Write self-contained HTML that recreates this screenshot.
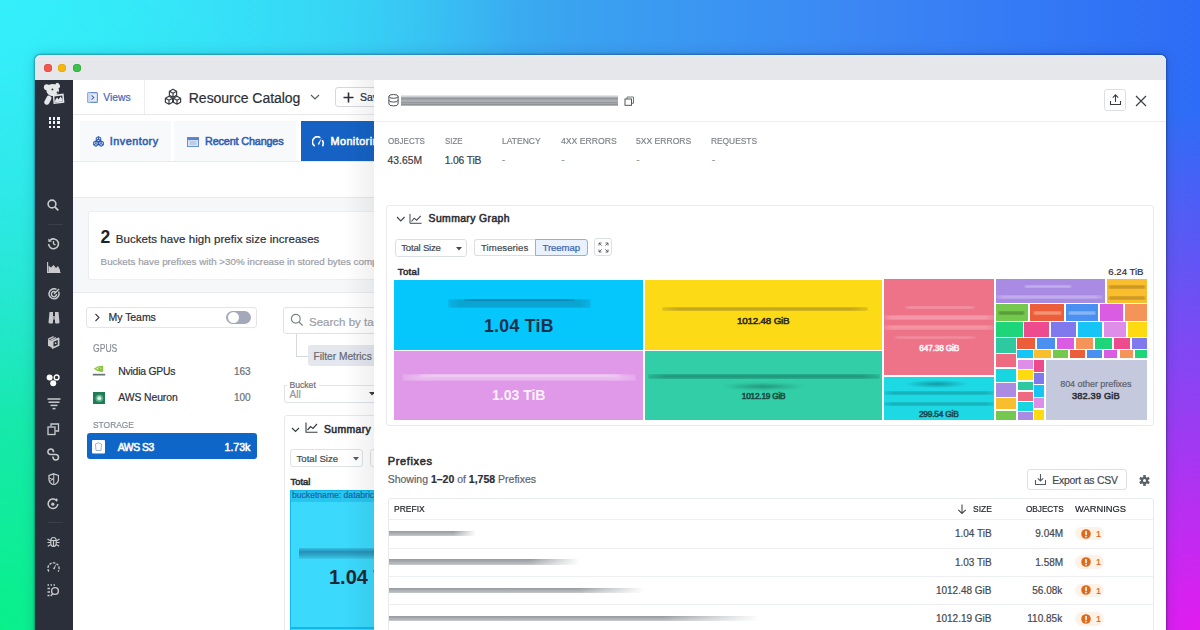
<!DOCTYPE html>
<html><head><meta charset="utf-8">
<style>
*{margin:0;padding:0;box-sizing:border-box}
html,body{width:1200px;height:630px;overflow:hidden}
body{font-family:"Liberation Sans",sans-serif;position:relative;background:#2f7cf2}
.a{position:absolute}
.t{white-space:nowrap;line-height:1}
.t.r{-webkit-text-stroke:0.2px currentColor}
.t.s{-webkit-text-stroke:0.55px currentColor}
.layer{position:absolute;left:0;top:0;width:1200px;height:630px}
</style></head><body>

<div class="a" style="left:0px;top:0px;width:1200.00px;height:630.00px;background:
 radial-gradient(ellipse 520px 420px at 0px 0px,#34f0fb 0%,rgba(52,240,251,0) 100%),
 radial-gradient(ellipse 480px 680px at 0px 630px,#08f08a 0%,rgba(8,240,138,0) 100%),
 radial-gradient(ellipse 560px 520px at 1200px 630px,#e21cf0 0%,rgba(226,28,240,0) 100%),
 linear-gradient(90deg,#36d8f6 0%,#38c6f2 28%,#3aa2f0 48%,#3b86f4 72%,#2d6cf6 100%);"></div>
<div class="a" style="left:35px;top:55px;width:1131.00px;height:605.00px;border-radius:6px;background:#fff;box-shadow:0 0 2px 0.5px rgba(0,20,60,.35),0 0 14px rgba(0,0,40,.15)"></div>
<div class="a" style="left:35px;top:55px;width:1131.00px;height:25.00px;border-radius:6px 6px 0 0;background:#e6e7eb;box-shadow:inset 0 1.5px 0 rgba(225,240,250,.9)"></div>
<div class="a" style="left:43.9px;top:63.8px;width:8.20px;height:8.20px;border-radius:50%;background:#f4574b;box-shadow:inset 0 0 0 0.6px #d9443a"></div>
<div class="a" style="left:58.0px;top:63.8px;width:8.20px;height:8.20px;border-radius:50%;background:#f7b60e;box-shadow:inset 0 0 0 0.6px #e0a30a"></div>
<div class="a" style="left:72.5px;top:63.8px;width:8.20px;height:8.20px;border-radius:50%;background:#3cc24a;box-shadow:inset 0 0 0 0.6px #2fa33c"></div>
<div class="a" style="left:35px;top:80px;width:38.00px;height:550.00px;background:#2b2f39"></div>
<svg class="a" style="left:40px;top:80px;" width="28" height="28" viewBox="0 0 28 28"><g fill="#e6e7e9"><circle cx="6.8" cy="7.2" r="2.9"/><ellipse cx="17.6" cy="5.6" rx="2.2" ry="2.8" transform="rotate(-30 17.6 5.6)"/><ellipse cx="12.6" cy="10" rx="6.4" ry="6" transform="rotate(20 12.6 10)"/><rect x="5.5" y="15.5" width="5" height="9.5" rx="2.5" transform="rotate(28 8 20)"/></g><circle cx="12.4" cy="9.4" r="0.95" fill="#2b2f39"/><circle cx="17.6" cy="12.5" r="1" fill="#2b2f39"/><path d="M12.8 15 L23.6 13.6 L24.4 22.8 L13.6 24 Z" fill="#e6e7e9"/><path d="M14.3 16.5 L22.2 15.4 L22.8 21.4 L14.9 22.4 Z" fill="#2b2f39"/><path d="M14.8 22.3 L15.5 19.5 L17.2 17.6 L18.6 19.6 L20.5 16.4 L22.6 19.4 L22.8 21.4 Z" fill="#e6e7e9"/></svg>
<div class="a" style="left:48.6px;top:117.2px;width:2.60px;height:2.60px;background:#f2f3f4"></div>
<div class="a" style="left:52.800000000000004px;top:117.2px;width:2.60px;height:2.60px;background:#f2f3f4"></div>
<div class="a" style="left:57.0px;top:117.2px;width:2.60px;height:2.60px;background:#f2f3f4"></div>
<div class="a" style="left:48.6px;top:121.4px;width:2.60px;height:2.60px;background:#f2f3f4"></div>
<div class="a" style="left:52.800000000000004px;top:121.4px;width:2.60px;height:2.60px;background:#f2f3f4"></div>
<div class="a" style="left:57.0px;top:121.4px;width:2.60px;height:2.60px;background:#f2f3f4"></div>
<div class="a" style="left:48.6px;top:125.60000000000001px;width:2.60px;height:2.60px;background:#f2f3f4"></div>
<div class="a" style="left:52.800000000000004px;top:125.60000000000001px;width:2.60px;height:2.60px;background:#f2f3f4"></div>
<div class="a" style="left:57.0px;top:125.60000000000001px;width:2.60px;height:2.60px;background:#f2f3f4"></div>
<svg class="a" style="left:46px;top:198px;" width="14" height="14" viewBox="0 0 14 14"><circle cx="6" cy="6" r="3.9" fill="none" stroke="#c8cace" stroke-width="1.6"/><path d="M8.8 8.8 L12.3 12.3" stroke="#c8cace" stroke-width="1.8"/></svg>
<div class="a" style="left:47.8px;top:224px;width:15.50px;height:1.00px;background:#3b3f49"></div>
<div class="a" style="left:47.8px;top:522.2px;width:15.50px;height:1.00px;background:#3b3f49"></div>
<svg class="a" style="left:47px;top:237px;" width="13" height="13" viewBox="0 0 13 13"><path d="M3.2 3.2 A4.9 4.9 0 1 1 1.6 7" fill="none" stroke="#c8cace" stroke-width="1.6"/><path d="M1.2 1.5 L1.5 5 L5 4.6 Z" fill="#c8cace"/><path d="M6.5 4 V6.8 L8.5 8" fill="none" stroke="#c8cace" stroke-width="1.3"/></svg>
<svg class="a" style="left:46.5px;top:262px;" width="14" height="11" viewBox="0 0 14 11"><path d="M0.6 0 V10.4 H13.5" fill="none" stroke="#c8cace" stroke-width="1.1"/><path d="M1.5 10 V3.5 L4 5.5 L6.5 3 L9 6 L11 4 L13 8 V10 Z" fill="#c8cace"/></svg>
<svg class="a" style="left:47.5px;top:287.5px;" width="12" height="12" viewBox="0 0 12 12"><path d="M10.5 3.5 A5 5 0 1 1 8.5 1.4" fill="none" stroke="#c8cace" stroke-width="1.5"/><path d="M7.8 4.2 A2.6 2.6 0 1 0 8.6 6" fill="none" stroke="#c8cace" stroke-width="1.4"/><path d="M6 6 L11 1" stroke="#c8cace" stroke-width="1.4"/></svg>
<svg class="a" style="left:47.5px;top:311px;" width="12" height="13" viewBox="0 0 12 13"><path d="M1.5 1 H5 V5 H7 V1 H10.5 L11.5 11.5 Q11.5 12.5 10 12.5 H8 Q7 12.5 7 11 V8.5 H5 V11 Q5 12.5 4 12.5 H2 Q0.5 12.5 0.5 11.5 Z" fill="#c8cace"/><path d="M6 5 V8.5" stroke="#2b2f39" stroke-width="0.6"/></svg>
<svg class="a" style="left:43px;top:333px;" width="20" height="20" viewBox="0 0 20 20"><path d="M5 6.4 L9.6 8.2 V15 L5 12.8 Z" fill="#c8cace"/><path d="M9.6 8.2 L15.6 5.4 V12.3 L9.6 15 Z" fill="none" stroke="#c8cace" stroke-width="1.7" stroke-linejoin="round"/><circle cx="12.6" cy="10.2" r="0.9" fill="#c8cace"/><path d="M5 6.4 L10.6 3.6 M7.4 7.3 L13 4.5 M9.6 8.2 L15.6 5.4" stroke="#c8cace" stroke-width="1.3"/></svg>
<svg class="a" style="left:46px;top:373.5px;" width="14" height="13" viewBox="0 0 14 13"><circle cx="3.6" cy="3.4" r="3" fill="#fff"/><circle cx="10.6" cy="3.4" r="2.4" fill="none" stroke="#fff" stroke-width="1.4"/><circle cx="7.2" cy="9.3" r="3" fill="#fff"/></svg>
<svg class="a" style="left:46.5px;top:398px;" width="14" height="12" viewBox="0 0 14 12"><g stroke="#c8cace" stroke-width="1.5"><path d="M0.5 1 H13.5"/><path d="M1.5 4.2 H12.5"/><path d="M3.5 7.4 H10.5"/><path d="M5.5 10.6 H8.5"/></g></svg>
<svg class="a" style="left:47px;top:423px;" width="12.5" height="12.5" viewBox="0 0 12.5 12.5"><g fill="none" stroke="#c8cace" stroke-width="1.3"><path d="M4 3.5 V1 H11.5 V8 H8.5"/><rect x="1" y="4" width="7" height="7.5"/></g></svg>
<svg class="a" style="left:47px;top:447.5px;" width="13" height="13" viewBox="0 0 13 13"><path d="M6.6 4.3 C6.6 2 5.5 0.9 3.9 0.9 C2.2 0.9 0.9 2.2 0.9 3.8 C0.9 5.4 2.2 6.4 3.8 6.4 L8.6 6.4 C10.2 6.4 11.5 7.6 11.5 9.2 C11.5 10.8 10.2 12 8.6 12 C7 12 5.9 10.9 5.9 8.6" fill="none" stroke="#c8cace" stroke-width="1.5"/></svg>
<svg class="a" style="left:47.5px;top:472.5px;" width="11.5" height="12.5" viewBox="0 0 11.5 12.5"><path d="M5.75 0.8 L10.5 2.5 V6.5 Q10.5 10 5.75 12 Q1 10 1 6.5 V2.5 Z" fill="none" stroke="#c8cace" stroke-width="1.3"/><path d="M5.75 1 V11.5 M1.5 5 L5.5 7 M2 8.5 L5.5 5" stroke="#c8cace" stroke-width="1"/></svg>
<svg class="a" style="left:47.3px;top:498px;" width="12" height="12" viewBox="0 0 12 12"><path d="M9 2 A4.8 4.8 0 1 0 10.8 6" fill="none" stroke="#c8cace" stroke-width="1.5"/><circle cx="5.8" cy="6.2" r="1.6" fill="#c8cace"/><path d="M9.5 0.5 V3.5 M8 2 H11" stroke="#c8cace" stroke-width="1.1"/></svg>
<svg class="a" style="left:47px;top:535.5px;" width="13" height="11.5" viewBox="0 0 13 11.5"><g fill="none" stroke="#c8cace" stroke-width="1.2"><path d="M3.8 5 Q3.8 1.5 6.5 1.5 Q9.2 1.5 9.2 5 V7.5 Q9.2 10.5 6.5 10.5 Q3.8 10.5 3.8 7.5 Z"/><path d="M0.5 3 L3.8 5 M12.5 3 L9.2 5 M0.5 6.5 H3.8 M12.5 6.5 H9.2 M0.8 10.3 L3.9 8.5 M12.2 10.3 L9.1 8.5 M3.8 4.5 H9.2 M6.5 4.5 V10.5"/></g></svg>
<svg class="a" style="left:47px;top:560.5px;" width="13" height="11.5" viewBox="0 0 13 11.5"><path d="M1.8 10.5 A5.6 5.6 0 1 1 11.2 10.5" fill="none" stroke="#c8cace" stroke-width="1.4" stroke-dasharray="2.5 1.2"/><path d="M6 7.8 L9.5 2.5 L7.5 8.5 Z" fill="#c8cace"/></svg>
<svg class="a" style="left:47px;top:583.5px;" width="13" height="13" viewBox="0 0 13 13"><g stroke="#c8cace" stroke-width="1.3"><path d="M0.5 1 H2 M3.5 1 H5 M6.5 1 H8 M0.5 4.5 H3 M0.5 8 H3 M0.5 11.5 H2.5"/></g><circle cx="8" cy="7" r="3.4" fill="none" stroke="#c8cace" stroke-width="1.4"/><path d="M5.7 9.6 L3.8 12" stroke="#c8cace" stroke-width="1.5"/></svg>
<div class="layer" style="clip-path:inset(80px 826px 0 73px)">
<div class="a" style="left:73px;top:80px;width:301.00px;height:550.00px;background:#fff"></div>
<div class="a" style="left:73px;top:114px;width:301.00px;height:1.00px;background:#e6e8ec"></div>
<div class="a" style="left:144px;top:80px;width:1.00px;height:34.00px;background:#eceef1"></div>
<svg class="a" style="left:87px;top:92px;" width="11" height="11" viewBox="0 0 11 11"><rect x="0.6" y="0.6" width="9.8" height="9.8" rx="1" fill="#e3eaf8" stroke="#6b8ccc" stroke-width="1.1"/><rect x="0.6" y="0.6" width="3" height="9.8" fill="#c9d6f0"/><path d="M4.6 3.4 L6.8 5.5 L4.6 7.6" fill="none" stroke="#4a6fc0" stroke-width="1.1"/></svg>
<div class="a t r" style="left:103.30px;top:93.00px;font-size:10.3px;color:#4469bd;letter-spacing:0.025px;">Views</div>
<svg class="a" style="left:164px;top:88px;" width="18" height="17" viewBox="0 0 18 17"><g fill="none" stroke="#3a3d44" stroke-width="1.2" stroke-linejoin="round"><path d="M9 1.2 L12.6 3.2 L12.6 7.2 L9 9.2 L5.4 7.2 L5.4 3.2 Z M5.4 3.2 L9 5.2 L12.6 3.2 M9 5.2 L9 9.2"/><path d="M5 8.2 L8.6 10.2 L8.6 14.2 L5 16.2 L1.4 14.2 L1.4 10.2 Z M1.4 10.2 L5 12.2 L8.6 10.2 M5 12.2 L5 16.2"/><path d="M13 8.2 L16.6 10.2 L16.6 14.2 L13 16.2 L9.4 14.2 L9.4 10.2 Z M9.4 10.2 L13 12.2 L16.6 10.2 M13 12.2 L13 16.2"/></g></svg>
<div class="a t r" style="left:188.80px;top:91.00px;font-size:14px;color:#2c2f36;letter-spacing:-0.033px;">Resource Catalog</div>
<svg class="a" style="left:310px;top:94px;" width="10" height="6" viewBox="0 0 10 6"><path d="M1 1 L5 5 L9 1" fill="none" stroke="#555a62" stroke-width="1.2"/></svg>
<div class="a" style="left:335px;top:86.5px;width:65.00px;height:20.50px;border:1px solid #d5d8de;border-radius:3px;background:#fff"></div>
<svg class="a" style="left:342px;top:91px;" width="13" height="13" viewBox="0 0 13 13"><path d="M6.5 1.5 V11.5 M1.5 6.5 H11.5" stroke="#2c2f36" stroke-width="1.6"/></svg>
<div class="a t r" style="left:360.00px;top:92.00px;font-size:10.5px;color:#2c2f36;">Save</div>
<div class="a" style="left:73px;top:161px;width:301.00px;height:1.00px;background:#e8eaee"></div>
<div class="a" style="left:80px;top:121px;width:90.60px;height:40.00px;background:#f8f9fb"></div>
<div class="a" style="left:174.4px;top:121px;width:121.60px;height:40.00px;background:#f8f9fb"></div>
<div class="a" style="left:300.5px;top:121px;width:79.50px;height:40.00px;background:#1562c4"></div>
<svg class="a" style="left:92.5px;top:135.8px;" width="11" height="11" viewBox="0 0 11 11"><path d="M5.50 0.60 L7.75 1.90 L7.75 4.50 L5.50 5.80 L3.25 4.50 L3.25 1.90 Z M3.25 4.50 L5.50 3.20 L7.75 4.50 M5.50 3.20 L5.50 0.60 M2.90 5.00 L5.15 6.30 L5.15 8.90 L2.90 10.20 L0.65 8.90 L0.65 6.30 Z M0.65 8.90 L2.90 7.60 L5.15 8.90 M2.90 7.60 L2.90 5.00 M8.10 5.00 L10.35 6.30 L10.35 8.90 L8.10 10.20 L5.85 8.90 L5.85 6.30 Z M5.85 8.90 L8.10 7.60 L10.35 8.90 M8.10 7.60 L8.10 5.00" fill="#dbe6f8" stroke="#2f5fb3" stroke-width="1.05" stroke-linejoin="round"/></svg>
<div class="a t s" style="left:109.80px;top:136.00px;font-size:10.8px;color:#2f5fb3;letter-spacing:0.487px;">Inventory</div>
<svg class="a" style="left:187px;top:137px;" width="12" height="10" viewBox="0 0 12 10"><rect x="0.5" y="0.5" width="11" height="9" fill="#dfe7f6" stroke="#6a8fd0" stroke-width="1"/><rect x="0.5" y="0.5" width="11" height="2.6" fill="#5b82cc"/><path d="M2.5 5 H9.5 M2.5 7 H9.5" stroke="#8eabe0" stroke-width="0.9"/></svg>
<div class="a t s" style="left:205.00px;top:136.00px;font-size:10.8px;color:#2f5fb3;letter-spacing:-0.138px;">Recent Changes</div>
<svg class="a" style="left:312px;top:136px;" width="13" height="11" viewBox="0 0 13 11"><path d="M2.2 9.6 A5 5 0 0 1 7.6 1.3" fill="none" stroke="#fff" stroke-width="1.7" stroke-linecap="round"/><path d="M10.6 4.8 A5 5 0 0 1 10.8 9.6" fill="none" stroke="#fff" stroke-width="1.7" stroke-linecap="round"/><path d="M5.6 8.2 L9.8 1.4 L7.2 8.8 Z" fill="#fff"/></svg>
<div class="a t s" style="left:330.50px;top:136.00px;font-size:10.8px;color:#ffffff;letter-spacing:0.45px">Monitoring</div>
<div class="a" style="left:73px;top:197px;width:301.00px;height:96.00px;background:#f6f7f9;border-top:1px solid #e6e8ec;border-bottom:1px solid #e9ebee"></div>
<div class="a" style="left:87.5px;top:211.4px;width:312.50px;height:69.10px;background:#fff;border:1px solid #eceef1;border-radius:2px"></div>
<div class="a t" style="left:100.60px;top:229.00px;font-size:17.5px;color:#1f2228;font-weight:bold;">2</div>
<div class="a t r" style="left:115.80px;top:234.00px;font-size:11.5px;color:#2c2f36;letter-spacing:0.058px;">Buckets have high prefix size increases</div>
<div class="a t r" style="left:100.60px;top:257.00px;font-size:9.8px;color:#9a9ea6;">Buckets have prefixes with &gt;30% increase in stored bytes compared</div>
<div class="a" style="left:86.4px;top:306.6px;width:171.10px;height:21.70px;border:1px solid #e3e5ea;border-radius:3px;background:#fff"></div>
<svg class="a" style="left:94px;top:313px;" width="7" height="9" viewBox="0 0 7 9"><path d="M1.5 1 L5 4.5 L1.5 8" fill="none" stroke="#3a3d44" stroke-width="1.1"/></svg>
<div class="a t r" style="left:108.60px;top:312.00px;font-size:10.5px;color:#2c2f36;letter-spacing:-0.057px;">My Teams</div>
<div class="a" style="left:226px;top:310.8px;width:24.50px;height:13.60px;border-radius:7px;background:#a3a8ba"></div>
<div class="a" style="left:227.5px;top:312.2px;width:11.00px;height:10.80px;border-radius:50%;background:#fff"></div>
<div class="a t r" style="left:92.90px;top:344px;font-size:10.2px;color:#8a8e96;transform:scaleX(0.8414);transform-origin:0 0;">GPUS</div>
<svg class="a" style="left:92px;top:365px;" width="14" height="12" viewBox="0 0 14 12"><path d="M1.8 3.8 Q6 0.2 11.2 1 V6.8 Q6 7.6 1.8 3.8 Z" fill="#8cc63f"/><path d="M4.2 3.8 Q7 1.8 9.5 3.2 Q7 5.6 4.2 3.8 Z" fill="#e9f5d5"/><circle cx="7.3" cy="3.7" r="1" fill="#76b900"/><rect x="0.8" y="8.8" width="12.4" height="1.7" fill="#6b6f76"/></svg>
<div class="a t r" style="left:118.20px;top:367.00px;font-size:10.4px;color:#2c2f36;letter-spacing:-0.210px;">Nvidia GPUs</div>
<div class="a t r" style="left:233.90px;top:367.00px;font-size:10px;color:#6b6f76;">163</div>
<svg class="a" style="left:92.5px;top:391.7px;" width="12.6" height="12.4" viewBox="0 0 12.6 12.4"><rect width="12.6" height="12.4" fill="#1e7d57"/><circle cx="6.3" cy="6.2" r="3.8" fill="#5fae8a"/><circle cx="6.3" cy="6.2" r="2" fill="#d9efe4"/></svg>
<div class="a t r" style="left:118.20px;top:393.00px;font-size:10.4px;color:#2c2f36;letter-spacing:-0.078px;">AWS Neuron</div>
<div class="a t r" style="left:233.90px;top:393.00px;font-size:10px;color:#6b6f76;">100</div>
<div class="a t r" style="left:92.50px;top:420px;font-size:9.8px;color:#8a8e96;transform:scaleX(0.8583);transform-origin:0 0;">STORAGE</div>
<div class="a" style="left:86.8px;top:433.2px;width:170.40px;height:26.30px;background:#0f66c9;border-radius:3px"></div>
<svg class="a" style="left:92.2px;top:440px;" width="13" height="13.5" viewBox="0 0 13 13.5"><rect width="13" height="13.5" rx="1" fill="#fff"/><path d="M3.5 4 L6.5 2.8 L9.5 4 L9 10.5 L4 10.5 Z" fill="none" stroke="#8aa0c0" stroke-width="0.8"/></svg>
<div class="a t s" style="left:117.70px;top:443.00px;font-size:10.4px;color:#ffffff;letter-spacing:-0.45px">AWS S3</div>
<div class="a t s" style="left:224.50px;top:442.00px;font-size:10.6px;color:#ffffff;">1.73k</div>
<div class="a" style="left:283.4px;top:306.8px;width:116.60px;height:27.50px;border:1px solid #dfe2e7;border-radius:3px;background:#fff"></div>
<svg class="a" style="left:290px;top:313px;" width="14" height="14" viewBox="0 0 14 14"><circle cx="5.8" cy="5.8" r="4.4" fill="none" stroke="#7d8188" stroke-width="1.2"/><path d="M9 9 L12.6 12.6" stroke="#7d8188" stroke-width="1.3"/></svg>
<div class="a t r" style="left:309.00px;top:317.00px;font-size:11.5px;color:#9a9ea6;">Search by tags</div>
<div class="a" style="left:295.5px;top:334.3px;width:1.00px;height:21.70px;background:#d5d8de"></div>
<div class="a" style="left:295.5px;top:355.5px;width:12.20px;height:1.00px;background:#d5d8de"></div>
<div class="a" style="left:307.7px;top:344.7px;width:112.30px;height:21.50px;background:#e4e7ee;border-radius:3px"></div>
<div class="a t r" style="left:313.50px;top:352.00px;font-size:10.2px;color:#666a72;">Filter Metrics</div>
<div class="a t r" style="left:289.50px;top:381.00px;font-size:8.6px;color:#6b6f76;">Bucket</div>
<div class="a" style="left:283.5px;top:385px;width:116.50px;height:17.80px;border:1px solid #dfe2e7;border-top:none;border-radius:0 0 3px 3px"></div>
<div class="a" style="left:283.5px;top:385px;width:3.50px;height:1.00px;background:#dfe2e7"></div>
<div class="a" style="left:319px;top:384.8px;width:81.00px;height:1.00px;background:#e3e5ea"></div>
<div class="a t r" style="left:289.50px;top:390.00px;font-size:10px;color:#92969d;">All</div>
<svg class="a" style="left:369px;top:392px;" width="6" height="4" viewBox="0 0 6 4"><path d="M0 0 H6 L3 3.5 Z" fill="#3a3d44"/></svg>
<div class="a" style="left:283.7px;top:415.2px;width:136.30px;height:224.80px;border:1px solid #e6e8ec;border-radius:3px;background:#fff"></div>
<svg class="a" style="left:291px;top:427px;" width="9" height="6" viewBox="0 0 9 6"><path d="M1 1 L4.5 4.5 L8 1" fill="none" stroke="#3a3d44" stroke-width="1.2"/></svg>
<svg class="a" style="left:305px;top:422px;" width="13" height="11" viewBox="0 0 13 11"><path d="M1 0.5 V10.3 H12.5" fill="none" stroke="#3a3d44" stroke-width="1.1"/><path d="M2.5 8 L5.5 4.5 L8 6.5 L12 2" fill="none" stroke="#3a3d44" stroke-width="1.2"/></svg>
<div class="a t s" style="left:324.00px;top:425.00px;font-size:10.4px;color:#2c2f36;letter-spacing:0.392px;">Summary Graph</div>
<div class="a" style="left:290px;top:449.1px;width:73.00px;height:17.80px;border:1px solid #dfe2e7;border-radius:3px"></div>
<div class="a t r" style="left:296.50px;top:454.00px;font-size:9.6px;color:#45484f;">Total Size</div>
<svg class="a" style="left:353px;top:457px;" width="6" height="4" viewBox="0 0 6 4"><path d="M0 0 H6 L3 3.5 Z" fill="#555a62"/></svg>
<div class="a" style="left:370px;top:449.1px;width:50.00px;height:17.80px;border:1px solid #dfe2e7;border-radius:3px"></div>
<div class="a t s" style="left:290.50px;top:477.00px;font-size:9.4px;color:#2c2f36;">Total</div>
<div class="a" style="left:289.7px;top:489.6px;width:130.30px;height:150.40px;background:#3bd9fc;border:1.5px solid #15b6e6"></div>
<div class="a" style="left:291px;top:491px;width:129.00px;height:11.30px;background:#28c6ef"></div>
<div class="a" style="left:289.7px;top:626.5px;width:130.30px;height:2.00px;background:#12b9e8"></div>
<div class="a t r" style="left:292.00px;top:491.00px;font-size:8.6px;color:#1667a8;">bucketname: databricks</div>
<div class="a" style="left:299px;top:548px;width:121.00px;height:10.50px;background:linear-gradient(180deg,rgba(40,150,185,.35) 0%,rgba(30,120,160,.75) 35%,rgba(40,140,175,.6) 70%,rgba(60,170,200,.3) 100%);filter:blur(0.6px)"></div>
<div class="a t" style="left:329.00px;top:567.00px;font-size:20px;color:#1d2a36;font-weight:bold;">1.04 TiB</div>
</div>
<div class="layer" style="clip-path:inset(80px 34px 0 374px)">
<div class="a" style="left:374px;top:80px;width:792.00px;height:550.00px;background:#fff"></div>
<div class="a" style="left:374px;top:120.5px;width:792.00px;height:1.00px;background:#eceef1"></div>
<svg class="a" style="left:387.5px;top:94px;" width="11" height="12.5" viewBox="0 0 11 12.5"><g fill="none" stroke="#45484f" stroke-width="0.95"><ellipse cx="5.5" cy="2.4" rx="4.6" ry="1.9"/><path d="M0.9 2.4 V10 A4.6 1.9 0 0 0 10.1 10 V2.4 M0.9 6.2 A4.6 1.9 0 0 0 10.1 6.2"/></g></svg>
<div class="a" style="left:401px;top:95px;width:217.10px;height:11.00px;background:linear-gradient(180deg,rgba(220,222,225,.5) 0%,#c4c6ca 18%,#8e9196 28%,#a6a9ad 45%,#b4b7bb 55%,#94979c 68%,#a4a7ab 78%,#8b8e93 88%,#c9cbce 100%);filter:blur(0.35px)"></div>
<svg class="a" style="left:623.5px;top:95.5px;" width="11" height="10" viewBox="0 0 11 10"><rect x="1" y="3" width="6.5" height="6.3" fill="#fff" stroke="#4a4d55" stroke-width="0.95"/><path d="M3 3 V1 H9.5 V7.3 H7.5" fill="none" stroke="#6b6e75" stroke-width="0.95"/></svg>
<div class="a" style="left:1104.3px;top:89.4px;width:22.20px;height:21.70px;border:1px solid #dcdfe4;border-radius:3px"></div>
<svg class="a" style="left:1108px;top:93px;" width="15" height="14" viewBox="0 0 15 14"><path d="M7.5 2 V9 M4.8 4.6 L7.5 1.9 L10.2 4.6" fill="none" stroke="#3a3d44" stroke-width="1.1"/><path d="M2.5 8 V11.5 H12.5 V8" fill="none" stroke="#3a3d44" stroke-width="1.1"/></svg>
<svg class="a" style="left:1134.5px;top:94.5px;" width="12" height="12" viewBox="0 0 12 12"><path d="M1 1 L11 11 M11 1 L1 11" stroke="#3a3d44" stroke-width="1.2"/></svg>
<div class="a t r" style="left:387.50px;top:136px;font-size:9.6px;color:#80838b;transform:scaleX(0.8333);transform-origin:0 0;">OBJECTS</div>
<div class="a t r" style="left:444.70px;top:136px;font-size:9.6px;color:#80838b;transform:scaleX(0.8227);transform-origin:0 0;">SIZE</div>
<div class="a t r" style="left:501.70px;top:136px;font-size:9.6px;color:#80838b;transform:scaleX(0.8886);transform-origin:0 0;">LATENCY</div>
<div class="a t r" style="left:560.60px;top:136px;font-size:9.6px;color:#80838b;transform:scaleX(0.9000);transform-origin:0 0;">4XX ERRORS</div>
<div class="a t r" style="left:635.80px;top:136px;font-size:9.6px;color:#80838b;transform:scaleX(0.8935);transform-origin:0 0;">5XX ERRORS</div>
<div class="a t r" style="left:711.00px;top:136px;font-size:9.6px;color:#80838b;transform:scaleX(0.8717);transform-origin:0 0;">REQUESTS</div>
<div class="a t r" style="left:387.50px;top:156.00px;font-size:10.3px;color:#3d4047;letter-spacing:0.040px;">43.65M</div>
<div class="a t r" style="left:444.70px;top:156.00px;font-size:10.3px;color:#3d4047;letter-spacing:-0.143px;">1.06 TiB</div>
<div class="a t r" style="left:502.00px;top:156.00px;font-size:9px;color:#8a8e96;">-</div>
<div class="a t r" style="left:561.50px;top:156.00px;font-size:9px;color:#8a8e96;">-</div>
<div class="a t r" style="left:636.50px;top:156.00px;font-size:9px;color:#8a8e96;">-</div>
<div class="a t r" style="left:712.00px;top:156.00px;font-size:9px;color:#8a8e96;">-</div>
<div class="a" style="left:386.3px;top:205.3px;width:767.70px;height:220.70px;border:1px solid #e8eaee;border-radius:3px"></div>
<svg class="a" style="left:395.5px;top:215.5px;" width="10" height="7" viewBox="0 0 10 7"><path d="M1 1 L4.8 5 L8.6 1" fill="none" stroke="#45484f" stroke-width="1.2"/></svg>
<svg class="a" style="left:409px;top:214px;" width="13" height="10" viewBox="0 0 13 10"><path d="M1 0 V9.3 H12.5" fill="none" stroke="#45484f" stroke-width="1"/><path d="M2.5 7.5 L5.2 4.2 L7.6 6.2 L11.8 1.8" fill="none" stroke="#45484f" stroke-width="1.1"/></svg>
<div class="a t s" style="left:428.60px;top:214.00px;font-size:10.4px;color:#2c2f36;letter-spacing:0.392px;">Summary Graph</div>
<div class="a" style="left:394.7px;top:238.6px;width:72.50px;height:18.00px;border:1px solid #dcdfe4;border-radius:3px"></div>
<div class="a t r" style="left:401.30px;top:243.00px;font-size:9.6px;color:#45484f;letter-spacing:-0.222px;">Total Size</div>
<svg class="a" style="left:456px;top:247px;" width="6" height="4" viewBox="0 0 6 4"><path d="M0 0 H6 L3 3.5 Z" fill="#45484f"/></svg>
<div class="a" style="left:474.4px;top:238.5px;width:61.60px;height:17.90px;border:1px solid #dcdfe4;border-radius:3px 0 0 3px;border-right:none"></div>
<div class="a" style="left:535px;top:238.5px;width:52.75px;height:17.90px;border:1px solid #8db1e2;border-radius:0 3px 3px 0;background:#e8f1fc"></div>
<div class="a t r" style="left:481.00px;top:243.00px;font-size:9.6px;color:#45484f;letter-spacing:0.083px;">Timeseries</div>
<div class="a t r" style="left:542.50px;top:243.00px;font-size:9.6px;color:#3c64b0;letter-spacing:-0.083px;">Treemap</div>
<div class="a" style="left:594.4px;top:238.3px;width:17.90px;height:18.10px;border:1px solid #dcdfe4;border-radius:3px"></div>
<svg class="a" style="left:598px;top:242px;" width="11" height="11" viewBox="0 0 11 11"><g fill="none" stroke="#555a62" stroke-width="0.9"><path d="M1 3.5 V1 H3.5 M1 1 L3.6 3.6"/><path d="M10 3.5 V1 H7.5 M10 1 L7.4 3.6"/><path d="M1 7.5 V10 H3.5 M1 10 L3.6 7.4"/><path d="M10 7.5 V10 H7.5 M10 10 L7.4 7.4"/></g></svg>
<div class="a t s" style="left:397.80px;top:267.00px;font-size:9.6px;color:#2c2f36;letter-spacing:0.325px;">Total</div>
<div class="a t r" style="left:1108.30px;top:267.00px;font-size:9.6px;color:#2c2f36;">6.24 TiB</div>
<div class="a" style="left:393.5px;top:279.5px;width:249.50px;height:70.20px;background:#05c7fb"></div>
<div class="a" style="left:393.5px;top:350.9px;width:249.50px;height:69.10px;background:#e098e9"></div>
<div class="a" style="left:644.8px;top:279.5px;width:237.60px;height:70.00px;background:#fcda15"></div>
<div class="a" style="left:644.8px;top:351px;width:237.60px;height:69.00px;background:#31cea7"></div>
<div class="a" style="left:884.1px;top:279.3px;width:109.80px;height:96.00px;background:#ee7389"></div>
<div class="a" style="left:884.1px;top:376.7px;width:109.80px;height:43.10px;background:#1dd9e4"></div>
<div class="a" style="left:448px;top:298.8px;width:142.70px;height:9.00px;background:rgba(20,120,160,.45);filter:blur(0.9px);-webkit-mask-image:linear-gradient(90deg,rgba(0,0,0,.5) 0%,#000 8%,#000 92%,rgba(0,0,0,.5) 100%);"></div>
<div class="a" style="left:464px;top:299.2px;width:111.00px;height:2.20px;background:rgba(10,80,120,.35);filter:blur(0.6px);-webkit-mask-image:linear-gradient(90deg,rgba(0,0,0,.5) 0%,#000 8%,#000 92%,rgba(0,0,0,.5) 100%);"></div>
<div class="a t" style="left:484.00px;top:318.00px;font-size:17.6px;color:#16324a;font-weight:bold;letter-spacing:0.329px;">1.04 TiB</div>
<div class="a" style="left:402.4px;top:373.6px;width:233.30px;height:7.00px;background:rgba(255,255,255,.35);filter:blur(1.6px);-webkit-mask-image:linear-gradient(90deg,rgba(0,0,0,.5) 0%,#000 8%,#000 92%,rgba(0,0,0,.5) 100%);"></div>
<div class="a" style="left:420px;top:374.25px;width:200.00px;height:2.50px;background:rgba(255,255,255,.35);filter:blur(1px);-webkit-mask-image:linear-gradient(90deg,rgba(0,0,0,.5) 0%,#000 8%,#000 92%,rgba(0,0,0,.5) 100%);"></div>
<div class="a t" style="left:492.00px;top:388.00px;font-size:14px;color:#fbf0fd;font-weight:bold;">1.03 TiB</div>
<div class="a" style="left:661.8px;top:307.09999999999997px;width:206.20px;height:3.60px;background:rgba(130,110,40,.5);filter:blur(0.8px);-webkit-mask-image:linear-gradient(90deg,rgba(0,0,0,.5) 0%,#000 8%,#000 92%,rgba(0,0,0,.5) 100%);"></div>
<div class="a t s" style="left:736.90px;top:316.00px;font-size:9.8px;color:#2c2a20;letter-spacing:-0.170px;">1012.48 GiB</div>
<div class="a" style="left:648px;top:373.5px;width:232.00px;height:5.00px;background:rgba(20,110,90,.55);filter:blur(1.2px);-webkit-mask-image:linear-gradient(90deg,rgba(0,0,0,.5) 0%,#000 8%,#000 92%,rgba(0,0,0,.5) 100%);"></div>
<div class="a" style="left:722px;top:382.5px;width:82.00px;height:7.50px;background:radial-gradient(ellipse 50% 50% at 50% 50%,rgba(20,90,80,.55),rgba(20,90,80,0));filter:blur(0.8px)"></div>
<div class="a t s" style="left:741.80px;top:393.00px;font-size:8.28px;color:#1c4a44;letter-spacing:-0.220px;">1012.19 GiB</div>
<div class="a" style="left:905px;top:306.2px;width:70.00px;height:3.00px;background:rgba(255,255,255,.25);filter:blur(1.3px);-webkit-mask-image:linear-gradient(90deg,rgba(0,0,0,.5) 0%,#000 8%,#000 92%,rgba(0,0,0,.5) 100%);"></div>
<div class="a" style="left:884px;top:314.8px;width:109.90px;height:5.00px;background:rgba(255,255,255,.28);filter:blur(1.1px);-webkit-mask-image:linear-gradient(90deg,rgba(0,0,0,.5) 0%,#000 8%,#000 92%,rgba(0,0,0,.5) 100%);"></div>
<div class="a" style="left:884px;top:325.3px;width:109.90px;height:5.00px;background:rgba(255,255,255,.25);filter:blur(1.1px);-webkit-mask-image:linear-gradient(90deg,rgba(0,0,0,.5) 0%,#000 8%,#000 92%,rgba(0,0,0,.5) 100%);"></div>
<div class="a" style="left:893.7px;top:336.4px;width:82.30px;height:3.00px;background:rgba(255,255,255,.2);filter:blur(1.3px);-webkit-mask-image:linear-gradient(90deg,rgba(0,0,0,.5) 0%,#000 8%,#000 92%,rgba(0,0,0,.5) 100%);"></div>
<div class="a t s" style="left:919.30px;top:345.00px;font-size:8.28px;color:#fff4f6;letter-spacing:-0.156px;">647.38 GiB</div>
<div class="a" style="left:905px;top:379.5px;width:63.00px;height:8.50px;background:radial-gradient(ellipse 50% 50% at 50% 50%,rgba(10,100,110,.55),rgba(10,100,110,0));filter:blur(0.6px)"></div>
<div class="a" style="left:884px;top:391.4px;width:109.90px;height:4.00px;background:rgba(10,100,110,.35);filter:blur(1.2px);-webkit-mask-image:linear-gradient(90deg,rgba(0,0,0,.5) 0%,#000 8%,#000 92%,rgba(0,0,0,.5) 100%);"></div>
<div class="a" style="left:884px;top:401.7px;width:109.90px;height:4.00px;background:rgba(10,100,110,.35);filter:blur(1.2px);-webkit-mask-image:linear-gradient(90deg,rgba(0,0,0,.5) 0%,#000 8%,#000 92%,rgba(0,0,0,.5) 100%);"></div>
<div class="a t s" style="left:918.90px;top:410.00px;font-size:8.4px;color:#154a52;letter-spacing:-0.222px;">299.54 GiB</div>
<div class="a" style="left:996px;top:279.3px;width:108.80px;height:23.40px;background:#a98be3"></div>
<div class="a" style="left:1106.5px;top:279.3px;width:40.70px;height:23.40px;background:#f9be2e"></div>
<div class="a" style="left:996px;top:304px;width:32.00px;height:16.70px;background:#74c84e"></div>
<div class="a" style="left:1030.2px;top:304px;width:33.80px;height:16.70px;background:#ec5e3a"></div>
<div class="a" style="left:1065.5px;top:304px;width:32.30px;height:16.70px;background:#4a90f0"></div>
<div class="a" style="left:1099.6px;top:304px;width:23.10px;height:16.70px;background:#d95ce3"></div>
<div class="a" style="left:1125px;top:304px;width:22.20px;height:16.70px;background:#f49458"></div>
<div class="a" style="left:996px;top:322.2px;width:26.60px;height:14.60px;background:#1ed57a"></div>
<div class="a" style="left:1024.2px;top:322.2px;width:25.10px;height:14.60px;background:#ee4a8e"></div>
<div class="a" style="left:1051.2px;top:322.2px;width:25.00px;height:14.60px;background:#8079ee"></div>
<div class="a" style="left:1078.3px;top:322.2px;width:23.70px;height:14.60px;background:#17c4f6"></div>
<div class="a" style="left:1103.9px;top:322.2px;width:22.10px;height:14.60px;background:#de8ee8"></div>
<div class="a" style="left:1128px;top:322.2px;width:19.20px;height:14.60px;background:#fddb10"></div>
<div class="a" style="left:996px;top:338px;width:19.60px;height:14.80px;background:#2fc9a0"></div>
<div class="a" style="left:996px;top:354px;width:19.60px;height:13.40px;background:#ee6a80"></div>
<div class="a" style="left:996px;top:368.8px;width:19.60px;height:12.90px;background:#17d6e0"></div>
<div class="a" style="left:996px;top:383.1px;width:19.60px;height:13.60px;background:#a98be3"></div>
<div class="a" style="left:996px;top:398.1px;width:19.60px;height:11.30px;background:#f9be2e"></div>
<div class="a" style="left:996px;top:410.8px;width:19.60px;height:9.10px;background:#74c84e"></div>
<div class="a" style="left:1017.4px;top:338px;width:18.00px;height:10.90px;background:#ec5e3a"></div>
<div class="a" style="left:1037.2px;top:338px;width:17.70px;height:10.90px;background:#4a90f0"></div>
<div class="a" style="left:1057px;top:338px;width:16.60px;height:10.90px;background:#d95ce3"></div>
<div class="a" style="left:1075.7px;top:338px;width:17.40px;height:10.90px;background:#f49458"></div>
<div class="a" style="left:1095.2px;top:338px;width:16.50px;height:10.90px;background:#1ed57a"></div>
<div class="a" style="left:1113.9px;top:338px;width:16.00px;height:10.90px;background:#ee4a8e"></div>
<div class="a" style="left:1132.1px;top:338px;width:15.10px;height:10.90px;background:#8079ee"></div>
<div class="a" style="left:1017.4px;top:349.8px;width:15.40px;height:8.70px;background:#17c4f6"></div>
<div class="a" style="left:1034.3px;top:349.8px;width:16.70px;height:8.70px;background:#f9be2e"></div>
<div class="a" style="left:1052.8px;top:349.8px;width:15.30px;height:8.70px;background:#74c84e"></div>
<div class="a" style="left:1070px;top:349.8px;width:14.80px;height:8.70px;background:#ec5e3a"></div>
<div class="a" style="left:1086.6px;top:349.8px;width:15.10px;height:8.70px;background:#4a90f0"></div>
<div class="a" style="left:1103.9px;top:349.8px;width:13.60px;height:8.70px;background:#d95ce3"></div>
<div class="a" style="left:1119.5px;top:349.8px;width:13.40px;height:8.70px;background:#f49458"></div>
<div class="a" style="left:1134.7px;top:349.8px;width:12.50px;height:8.70px;background:#1ed57a"></div>
<div class="a" style="left:1017.5px;top:359.9px;width:15.10px;height:9.10px;background:#de8ee8"></div>
<div class="a" style="left:1017.5px;top:370.4px;width:15.10px;height:10.00px;background:#fddb10"></div>
<div class="a" style="left:1017.5px;top:381.7px;width:15.10px;height:8.60px;background:#2fc9a0"></div>
<div class="a" style="left:1017.5px;top:391.7px;width:15.10px;height:9.10px;background:#ee6a80"></div>
<div class="a" style="left:1017.5px;top:401.9px;width:15.10px;height:9.20px;background:#17d6e0"></div>
<div class="a" style="left:1017.5px;top:412.2px;width:15.10px;height:7.70px;background:#a98be3"></div>
<div class="a" style="left:1034.3px;top:359.9px;width:9.80px;height:11.90px;background:#ee4a8e"></div>
<div class="a" style="left:1034.3px;top:373.1px;width:9.80px;height:10.90px;background:#8079ee"></div>
<div class="a" style="left:1034.3px;top:385.4px;width:9.80px;height:11.30px;background:#17c4f6"></div>
<div class="a" style="left:1034.3px;top:398.1px;width:9.80px;height:10.20px;background:#de8ee8"></div>
<div class="a" style="left:1034.3px;top:409.7px;width:9.80px;height:10.20px;background:#fddb10"></div>
<div class="a" style="left:1045.9px;top:359.9px;width:101.60px;height:60.00px;background:#c5c9de"></div>
<div class="a" style="left:1024px;top:284.5px;width:48.00px;height:3.00px;background:rgba(255,255,255,.35);filter:blur(1px);-webkit-mask-image:linear-gradient(90deg,rgba(0,0,0,.5) 0%,#000 8%,#000 92%,rgba(0,0,0,.5) 100%);"></div>
<div class="a" style="left:996px;top:295.2px;width:107.00px;height:4.00px;background:rgba(255,255,255,.3);filter:blur(1px);-webkit-mask-image:linear-gradient(90deg,rgba(0,0,0,.5) 0%,#000 8%,#000 92%,rgba(0,0,0,.5) 100%);"></div>
<div class="a" style="left:1108px;top:284.7px;width:38.00px;height:4.00px;background:rgba(140,100,20,.45);filter:blur(1px);-webkit-mask-image:linear-gradient(90deg,rgba(0,0,0,.5) 0%,#000 8%,#000 92%,rgba(0,0,0,.5) 100%);"></div>
<div class="a" style="left:1108px;top:295.5px;width:38.00px;height:4.00px;background:rgba(140,100,20,.45);filter:blur(1px);-webkit-mask-image:linear-gradient(90deg,rgba(0,0,0,.5) 0%,#000 8%,#000 92%,rgba(0,0,0,.5) 100%);"></div>
<div class="a" style="left:998px;top:311.0px;width:27.00px;height:4.00px;background:rgba(50,100,30,.45);filter:blur(1px);-webkit-mask-image:linear-gradient(90deg,rgba(0,0,0,.5) 0%,#000 8%,#000 92%,rgba(0,0,0,.5) 100%);"></div>
<div class="a" style="left:1033px;top:311.0px;width:29.00px;height:4.00px;background:rgba(255,220,200,.45);filter:blur(1px);-webkit-mask-image:linear-gradient(90deg,rgba(0,0,0,.5) 0%,#000 8%,#000 92%,rgba(0,0,0,.5) 100%);"></div>
<div class="a" style="left:1068px;top:311.0px;width:28.00px;height:4.00px;background:rgba(220,235,255,.45);filter:blur(1px);-webkit-mask-image:linear-gradient(90deg,rgba(0,0,0,.5) 0%,#000 8%,#000 92%,rgba(0,0,0,.5) 100%);"></div>
<div class="a t r" style="left:1060.20px;top:380.00px;font-size:9px;color:#5b5f6c;letter-spacing:-0.041px;">804 other prefixes</div>
<div class="a t s" style="left:1072.00px;top:392.00px;font-size:9.2px;color:#2f323b;letter-spacing:0.178px;">382.39 GiB</div>
<div class="a t s" style="left:387.70px;top:456.00px;font-size:11px;color:#2c2f36;letter-spacing:0.657px;">Prefixes</div>
<div class="a t r" style="left:387.70px;top:474.00px;font-size:10.5px;color:#5f636b;">Showing <b style="color:#2c2f36">1–20</b> of <b style="color:#2c2f36">1,758</b> Prefixes</div>
<div class="a" style="left:1026.5px;top:468.7px;width:100.10px;height:21.60px;border:1px solid #dcdfe4;border-radius:3px"></div>
<svg class="a" style="left:1034px;top:473px;" width="13" height="13" viewBox="0 0 13 13"><path d="M6.5 1 V8 M3.8 5.3 L6.5 8 L9.2 5.3" fill="none" stroke="#555a62" stroke-width="1.1"/><path d="M1.5 7 V11.5 H11.5 V7" fill="none" stroke="#555a62" stroke-width="1.1"/></svg>
<div class="a t r" style="left:1052.20px;top:476.00px;font-size:10.4px;color:#45484f;letter-spacing:-0.200px;">Export as CSV</div>
<svg class="a" style="left:1138.5px;top:474.5px;" width="11" height="11" viewBox="0 0 11 11"><g transform="translate(5.5 5.5)"><circle r="3.6" fill="#5a5e66"/><g fill="#5a5e66"><rect x="-1.3" y="-5.4" width="2.6" height="3" transform="rotate(0)"/><rect x="-1.3" y="-5.4" width="2.6" height="3" transform="rotate(60)"/><rect x="-1.3" y="-5.4" width="2.6" height="3" transform="rotate(120)"/><rect x="-1.3" y="-5.4" width="2.6" height="3" transform="rotate(180)"/><rect x="-1.3" y="-5.4" width="2.6" height="3" transform="rotate(240)"/><rect x="-1.3" y="-5.4" width="2.6" height="3" transform="rotate(300)"/></g><circle r="1.5" fill="#fff"/></g></svg>
<div class="a" style="left:387.7px;top:497.5px;width:765.90px;height:142.50px;border:1px solid #e8eaee;border-radius:3px"></div>
<div class="a" style="left:388px;top:519.3px;width:765.60px;height:1.00px;background:#eceef1"></div>
<div class="a" style="left:388px;top:547.7px;width:765.60px;height:1.00px;background:#eceef1"></div>
<div class="a" style="left:388px;top:576px;width:765.60px;height:1.00px;background:#eceef1"></div>
<div class="a" style="left:388px;top:604px;width:765.60px;height:1.00px;background:#eceef1"></div>
<div class="a t r" style="left:393.70px;top:504px;font-size:9.4px;color:#1f2228;transform:scaleX(0.9088);transform-origin:0 0;">PREFIX</div>
<svg class="a" style="left:957px;top:503.5px;" width="10" height="10.5" viewBox="0 0 10 10.5"><path d="M5 0.5 V9.5 M1.3 5.8 L5 9.5 L8.7 5.8" fill="none" stroke="#45484f" stroke-width="1.1"/></svg>
<div class="a t r" style="left:973.00px;top:504px;font-size:9.4px;color:#1f2228;transform:scaleX(0.9000);transform-origin:0 0;">SIZE</div>
<div class="a t r" style="left:1025.80px;top:504px;font-size:9.4px;color:#1f2228;transform:scaleX(0.8721);transform-origin:0 0;">OBJECTS</div>
<div class="a t r" style="left:1075.30px;top:504px;font-size:9.4px;color:#1f2228;transform:scaleX(0.9961);transform-origin:0 0;">WARNINGS</div>
<div class="a" style="left:389px;top:530.8px;width:87.00px;height:5.20px;background:linear-gradient(180deg,#95989c 0%,#a6a9ad 35%,#b5b8bb 70%,#c8cacd 100%);filter:blur(0.45px);-webkit-mask-image:linear-gradient(90deg,#000 0%,#000 74%,rgba(0,0,0,0) 100%)"></div>
<div class="a t r" style="left:954.90px;top:529.00px;font-size:10px;color:#45484f;">1.04 TiB</div>
<div class="a t r" style="left:1035.30px;top:529.00px;font-size:10px;color:#45484f;">9.04M</div>
<div class="a" style="left:1074.8px;top:526.6px;width:29.40px;height:13.80px;background:#fdf2e8;border-radius:7px"></div>
<svg class="a" style="left:1080.6px;top:528.5px;" width="10" height="10" viewBox="0 0 10 10"><circle cx="5" cy="5" r="4.8" fill="#e0691b"/><rect x="4.2" y="2" width="1.6" height="4" fill="#fff"/><rect x="4.2" y="6.8" width="1.6" height="1.5" fill="#fff"/></svg>
<div class="a t r" style="left:1096.00px;top:530.00px;font-size:9px;color:#d9661b;">1</div>
<div class="a" style="left:389px;top:559.4px;width:191.00px;height:5.20px;background:linear-gradient(180deg,#95989c 0%,#a6a9ad 35%,#b5b8bb 70%,#c8cacd 100%);filter:blur(0.45px);-webkit-mask-image:linear-gradient(90deg,#000 0%,#000 74%,rgba(0,0,0,0) 100%)"></div>
<div class="a t r" style="left:954.90px;top:558.00px;font-size:10px;color:#45484f;">1.03 TiB</div>
<div class="a t r" style="left:1035.30px;top:558.00px;font-size:10px;color:#45484f;">1.58M</div>
<div class="a" style="left:1074.8px;top:555.2px;width:29.40px;height:13.80px;background:#fdf2e8;border-radius:7px"></div>
<svg class="a" style="left:1080.6px;top:557.1px;" width="10" height="10" viewBox="0 0 10 10"><circle cx="5" cy="5" r="4.8" fill="#e0691b"/><rect x="4.2" y="2" width="1.6" height="4" fill="#fff"/><rect x="4.2" y="6.8" width="1.6" height="1.5" fill="#fff"/></svg>
<div class="a t r" style="left:1096.00px;top:558.00px;font-size:9px;color:#d9661b;">1</div>
<div class="a" style="left:389px;top:587.6999999999999px;width:256.00px;height:5.20px;background:linear-gradient(180deg,#95989c 0%,#a6a9ad 35%,#b5b8bb 70%,#c8cacd 100%);filter:blur(0.45px);-webkit-mask-image:linear-gradient(90deg,#000 0%,#000 74%,rgba(0,0,0,0) 100%)"></div>
<div class="a t r" style="left:935.90px;top:586.00px;font-size:10px;color:#45484f;">1012.48 GiB</div>
<div class="a t r" style="left:1032.30px;top:586.00px;font-size:10px;color:#45484f;">56.08k</div>
<div class="a" style="left:1074.8px;top:583.5px;width:29.40px;height:13.80px;background:#fdf2e8;border-radius:7px"></div>
<svg class="a" style="left:1080.6px;top:585.4px;" width="10" height="10" viewBox="0 0 10 10"><circle cx="5" cy="5" r="4.8" fill="#e0691b"/><rect x="4.2" y="2" width="1.6" height="4" fill="#fff"/><rect x="4.2" y="6.8" width="1.6" height="1.5" fill="#fff"/></svg>
<div class="a t r" style="left:1096.00px;top:587.00px;font-size:9px;color:#d9661b;">1</div>
<div class="a" style="left:389px;top:616.0px;width:371.00px;height:5.20px;background:linear-gradient(180deg,#95989c 0%,#a6a9ad 35%,#b5b8bb 70%,#c8cacd 100%);filter:blur(0.45px);-webkit-mask-image:linear-gradient(90deg,#000 0%,#000 74%,rgba(0,0,0,0) 100%)"></div>
<div class="a t r" style="left:935.90px;top:614.00px;font-size:10px;color:#45484f;">1012.19 GiB</div>
<div class="a t r" style="left:1027.30px;top:614.00px;font-size:10px;color:#45484f;">110.85k</div>
<div class="a" style="left:1074.8px;top:611.8000000000001px;width:29.40px;height:13.80px;background:#fdf2e8;border-radius:7px"></div>
<svg class="a" style="left:1080.6px;top:613.7px;" width="10" height="10" viewBox="0 0 10 10"><circle cx="5" cy="5" r="4.8" fill="#e0691b"/><rect x="4.2" y="2" width="1.6" height="4" fill="#fff"/><rect x="4.2" y="6.8" width="1.6" height="1.5" fill="#fff"/></svg>
<div class="a t r" style="left:1096.00px;top:615.00px;font-size:9px;color:#d9661b;">1</div>
</div>
<div class="a" style="left:344px;top:80px;width:30.00px;height:550.00px;background:linear-gradient(90deg,rgba(0,0,0,0),rgba(0,0,0,.06))"></div>
</body></html>
